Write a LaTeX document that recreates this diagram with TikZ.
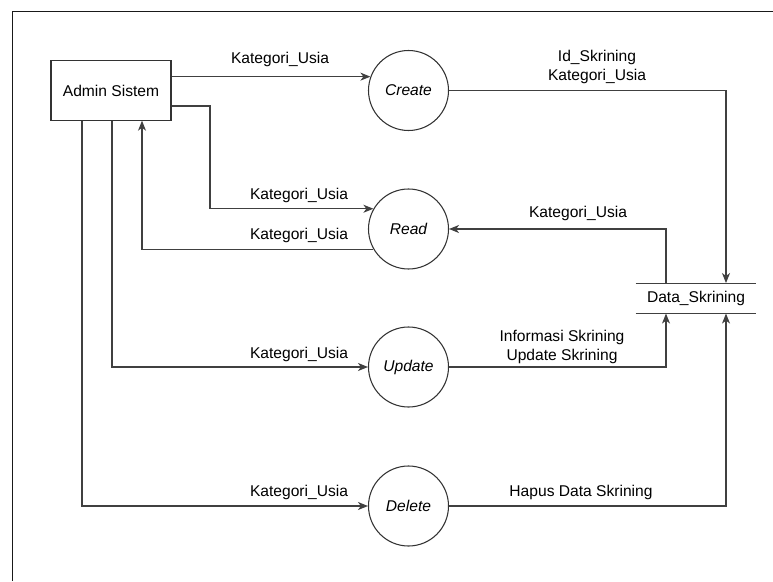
\documentclass[tikz,border=0pt]{standalone}
\usepackage{fontspec}
\setmainfont{Liberation Sans}
\usetikzlibrary{arrows.meta,calc}

\tikzset{
  px/.style={x=0.75pt,y=-0.75pt},
  lbl/.style={font=\fontsize{11.7}{14}\selectfont,text=black,inner sep=0pt,align=center},
  entity/.style={draw=black!80,line width=0.8pt,minimum width=90pt,minimum height=44.5pt,
                 inner sep=0pt,font=\fontsize{11.7}{14}\selectfont},
  process/.style={circle,draw=black!80,line width=0.8pt,minimum size=60pt,inner sep=0pt,
                  font=\fontsize{11.7}{14}\selectfont\itshape},
  storebox/.style={minimum width=90pt,minimum height=22.5pt,inner sep=0pt,
                   font=\fontsize{11.7}{14}\selectfont},
  flow/.style={draw=black!75,line width=0.8pt,-{Stealth[length=7.5pt,width=6pt,inset=2.2pt]}},
}

\begin{document}
\begin{tikzpicture}[px]
  \useasboundingbox (0,0) rectangle (773,581);

  % outer frame (open on the right and bottom)
  \draw[black!90,line width=1.1pt] (12.5,581) -- (12.5,11.5) -- (773,11.5);

  % external entity, processes and data store
  \node[entity]  (admin)  at (111,90.5) {Admin Sistem};
  \node[process] (create) at (408.5,90.5) {Create};
  \node[process] (read)   at (408.5,229) {Read};
  \node[process] (update) at (408.5,367) {Update};
  \node[process] (delete) at (408.5,506) {Delete};
  \node[storebox] (store) at (696,298.3) {Data\_Skrining};
  \draw[black!75,line width=0.8pt] (store.north west) -- (store.north east);
  \draw[black!75,line width=0.8pt] (store.south west) -- (store.south east);

  % helper columns for the routed connectors
  \coordinate (colread) at (210,0);

  % Admin Sistem -> processes
  \draw[flow] (admin.east |- create.160) -- (create.160);
  \draw[flow] ($(admin.east)+(0,15.5)$) -| (colread |- read.150) -- (read.150);
  \draw[flow] (read.210) -| ($(admin.south)+(31,0)$);
  \draw[flow] ($(admin.south)+(1,0)$) |- (update.west);
  \draw[flow] ($(admin.south)+(-29,0)$) |- (delete.west);

  % processes <-> Data_Skrining
  \draw[flow] (create.east) -| ($(store.north)+(30,0)$);
  \draw[flow] ($(store.north)+(-30,0)$) |- (read.east);
  \draw[flow] (update.east) -| ($(store.south)+(-30,0)$);
  \draw[flow] (delete.east) -| ($(store.south)+(30,0)$);

  % flow labels
  \node[lbl] (l1) at (280,59)  {Kategori\_Usia};
  \node[lbl] (l2) at (299,195) {Kategori\_Usia};
  \node[lbl] (l3) at (299,235) {Kategori\_Usia};
  \node[lbl] (l4) at (299,354) {Kategori\_Usia};
  \node[lbl] (l5) at (299,492) {Kategori\_Usia};
  \node[lbl] (l6) at (597,67)  {Id\_Skrining\\Kategori\_Usia};
  \node[lbl] (l7) at (578,213) {Kategori\_Usia};
  \node[lbl] (l8) at (562,347) {Informasi Skrining\\Update Skrining};
  \node[lbl] (l9) at (581,492) {Hapus Data Skrining};
\end{tikzpicture}
\end{document}
